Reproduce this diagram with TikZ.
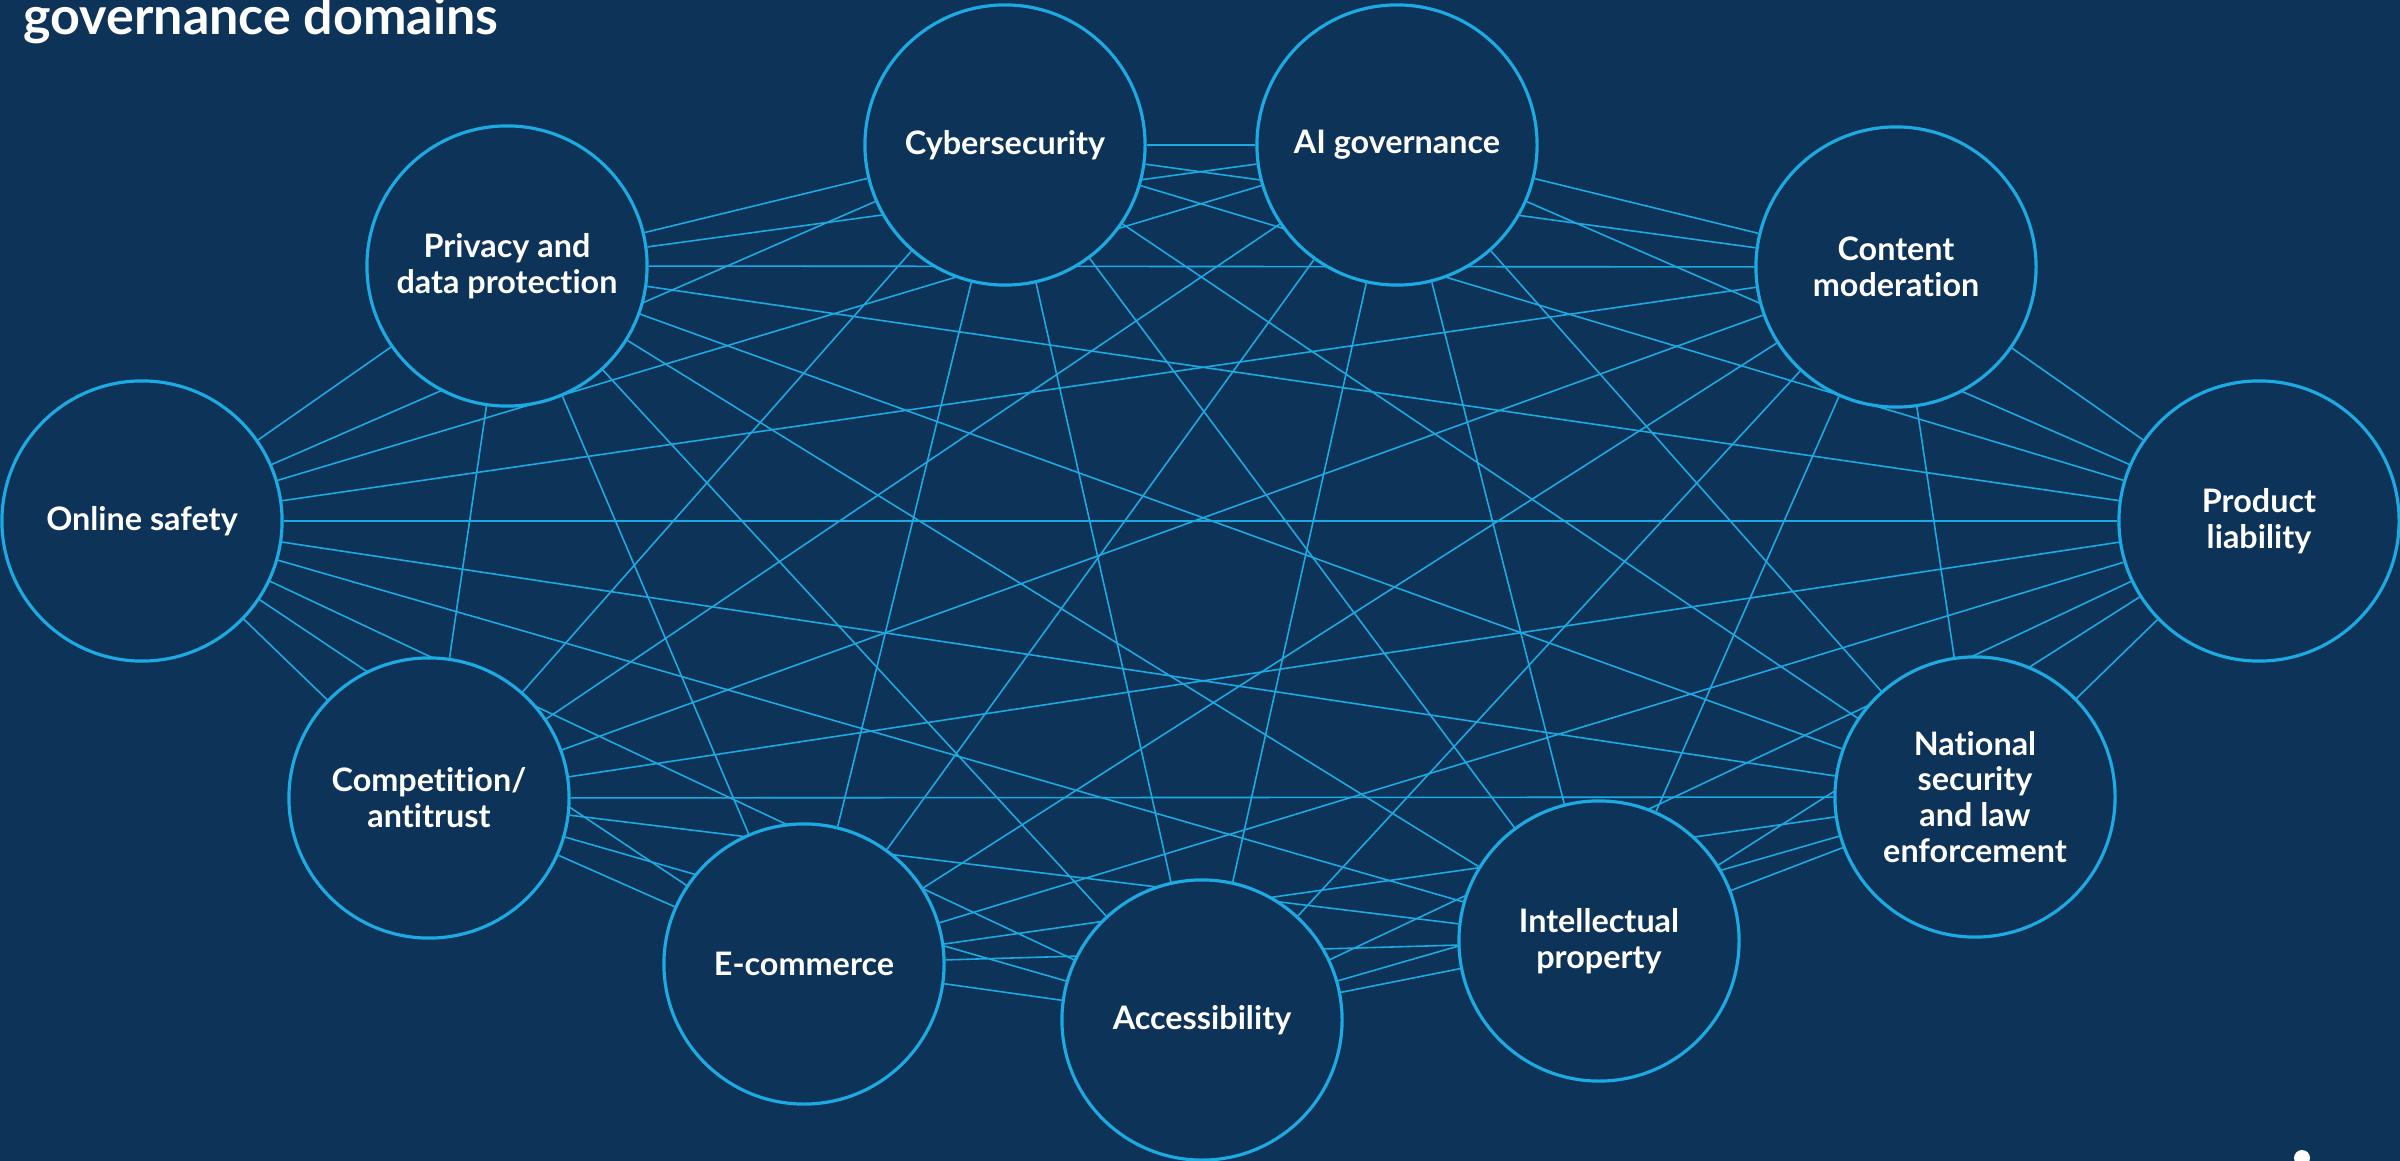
\documentclass[tikz,border=0pt]{standalone}
\usepackage{fontspec}
\setmainfont{Lato}[Ligatures=NoCommon]
\usetikzlibrary{backgrounds}
\definecolor{bgNavy}{RGB}{14,51,89}
\definecolor{linkCyan}{RGB}{28,170,226}

\begin{document}
\begin{tikzpicture}[
    x=0.01cm, y=-0.01cm,
    bubble/.style={circle, draw=linkCyan, line width=0.9pt, fill=bgNavy, minimum size=2.8cm, inner sep=0pt, align=center, text=white, font=\bfseries\fontsize{9.2}{10.2}\selectfont},
    link/.style={draw=linkCyan, line width=0.45pt},
    heading/.style={anchor=base west, inner sep=0pt, text=white, font=\bfseries\fontsize{14.8}{17}\selectfont}
]
\useasboundingbox (0,0) rectangle (2400,1161);

\node[heading] (title) at (23,35) {governance domains};

% Domains
\node[bubble] (cyber) at (1005,145) {Cybersecurity};
\node[bubble] (aigov) at (1397,145) {AI governance};
\node[bubble] (privacy) at (507,266) {Privacy and\\data protection};
\node[bubble] (content) at (1896,267) {Content\\moderation};
\node[bubble] (online) at (142,521) {Online safety};
\node[bubble] (product) at (2259,521) {Product\\liability};
\node[bubble] (compet) at (429,798) {Competition/\\antitrust};
\node[bubble] (natsec) at (1975,797) {National\\security\\and law\\enforcement};
\node[bubble] (ecomm) at (804,964) {E-commerce};
\node[bubble] (ip) at (1599,941) {Intellectual\\property};
\node[bubble] (access) at (1202,1020) {Accessibility};

\node[circle, fill=white, minimum size=0.16cm, inner sep=0pt] (dot) at (2302,1158) {};

% Every domain linked with every other one
\begin{scope}[on background layer]
\fill[bgNavy] (0,0) rectangle (2400,1161);
\foreach \a [count=\i] in {cyber,aigov,privacy,content,online,product,compet,natsec,ecomm,ip,access}{
    \foreach \b [count=\j] in {cyber,aigov,privacy,content,online,product,compet,natsec,ecomm,ip,access}{
        \ifnum\j>\i \draw[link] (\a) -- (\b); \fi
    }
}
\end{scope}

\end{tikzpicture}
\end{document}
